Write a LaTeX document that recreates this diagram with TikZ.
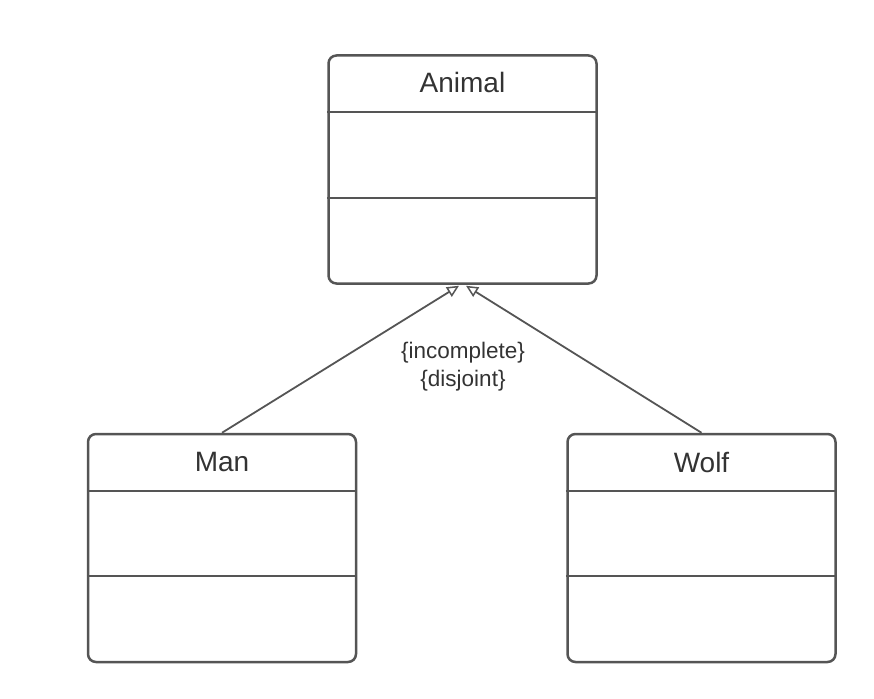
\documentclass[tikz,border=0pt]{standalone}
\usepackage{fontspec}
\setmainfont{Liberation Sans}
\usetikzlibrary{arrows.meta}
\definecolor{umlgray}{HTML}{555555}
\definecolor{umltext}{HTML}{333333}

\begin{document}
\begin{tikzpicture}[
        x=1pt,
        y=-1pt,
        class/.style={
            rectangle,
            draw=umlgray,
            line width=2.5pt,
            rounded corners=8pt,
            minimum width=268pt,
            minimum height=228pt
        },
        classname/.style={
            text=umltext,
            font=\fontsize{28}{32}\selectfont
        },
        divider/.style={
            draw=umlgray,
            line width=2.5pt
        },
        line/.style={
            draw=umlgray,
            line width=1.8pt,
            -{Triangle[open,length=12pt,width=11pt,line width=1.5pt]}
        },
      ]
        \useasboundingbox (0,0) rectangle (874,698);
        \node [class] (animal) at (462.5,169.5) {};
        \node [class] (man) at (222,548) {};
        \node [class] (wolf) at (701.5,548) {};
        \node [classname] (animal-name) at (462.5,82) {Animal};
        \node [classname] (man-name) at (222,462) {Man};
        \node [classname] (wolf-name) at (701.5,462) {Wolf};
        \path [divider] (animal.west |- 0,112) -- (animal.east |- 0,112);
        \path [divider] (animal.west |- 0,198) -- (animal.east |- 0,198);
        \path [divider] (man.west |- 0,491) -- (man.east |- 0,491);
        \path [divider] (man.west |- 0,576) -- (man.east |- 0,576);
        \path [divider] (wolf.west |- 0,491) -- (wolf.east |- 0,491);
        \path [divider] (wolf.west |- 0,576) -- (wolf.east |- 0,576);
        \node [text=umltext,align=center,font=\fontsize{22.5}{28}\selectfont] (constraints) at (463,367) {\{incomplete\}\\\{disjoint\}};
        \path [line] (man.north) -- ([xshift=-3.5pt,yshift=-1pt]animal.south);
        \path [line] (wolf.north) -- ([xshift=3.5pt,yshift=-1pt]animal.south);
      \end{tikzpicture}
\end{document}
